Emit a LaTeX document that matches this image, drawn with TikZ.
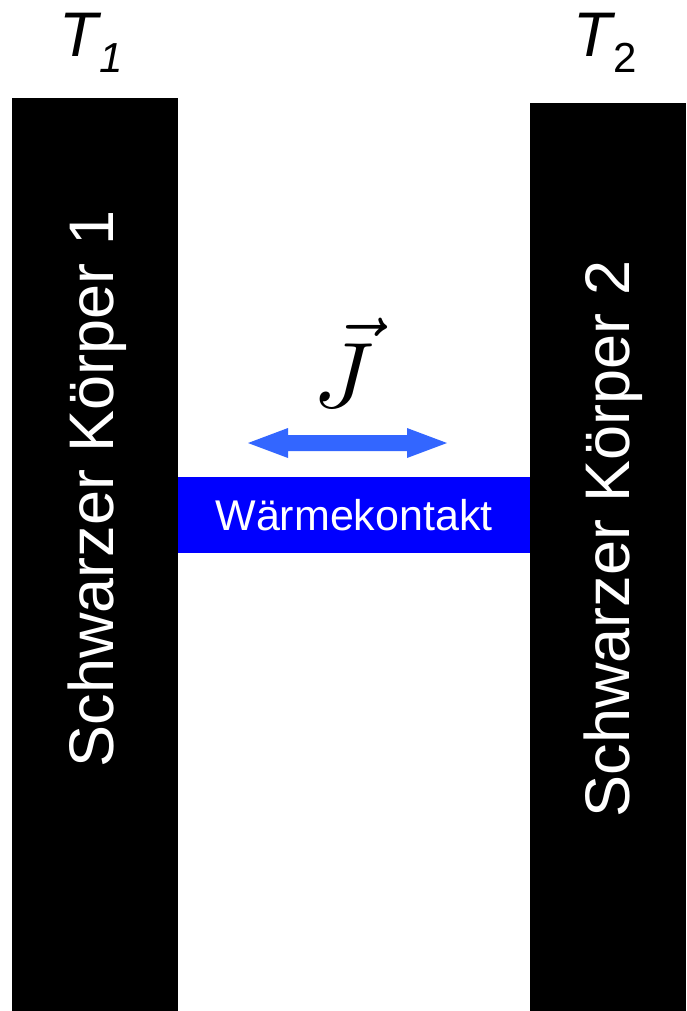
\documentclass[tikz,border=0pt]{standalone}
\usepackage{fontspec}
\setmainfont{Liberation Sans}
\definecolor{contactblue}{HTML}{0000FF}
\definecolor{arrowblue}{HTML}{3366FF}
\tikzset{
  body/.style={fill=black, draw=none},
  bodylabel/.style={text=white, rotate=90, anchor=base, inner sep=0pt, font=\fontsize{63}{63}\selectfont},
  templabel/.style={anchor=base, inner sep=0pt, font=\fontsize{63}{63}\selectfont\itshape},
  contact/.style={fill=contactblue, draw=none, text=white, inner sep=0pt, font=\fontsize{43}{43}\selectfont},
}
\begin{document}
\begin{tikzpicture}[x=1pt,y=-1pt]
\useasboundingbox (0,0) rectangle (686,1011);
% bodies
\fill[body] (12,98) rectangle (178,1011);
\fill[body] (530,103) rectangle (686,1011);
\node[bodylabel] (l1) at (113,489) {Schwarzer Körper 1};
\node[bodylabel] (l2) at (629,539) {Schwarzer Körper 2};
% temperatures
\node[templabel] (t1) at (91,57) {T\kern2pt\raisebox{-16pt}{\fontsize{42}{42}\selectfont 1}};
\node[templabel] (t2) at (605,57) {T\kern2pt\raisebox{-16pt}{\fontsize{42}{42}\selectfont\upshape 2}};
% contact
\fill[contactblue] (178,477) rectangle (530,553);
\node[contact, anchor=base] (wk) at (354,530) {Wärmekontakt};
% flux arrow
\fill[arrowblue] (248,443) -- (288,428) -- (288,435) -- (407,435) -- (407,428)
  -- (447,443) -- (407,458) -- (407,451) -- (288,451) -- (288,458) -- cycle;
\node[inner sep=0pt] (J) at (344,363) {\scalebox{9.3}{$\vec{J}$}};
\end{tikzpicture}
\end{document}
